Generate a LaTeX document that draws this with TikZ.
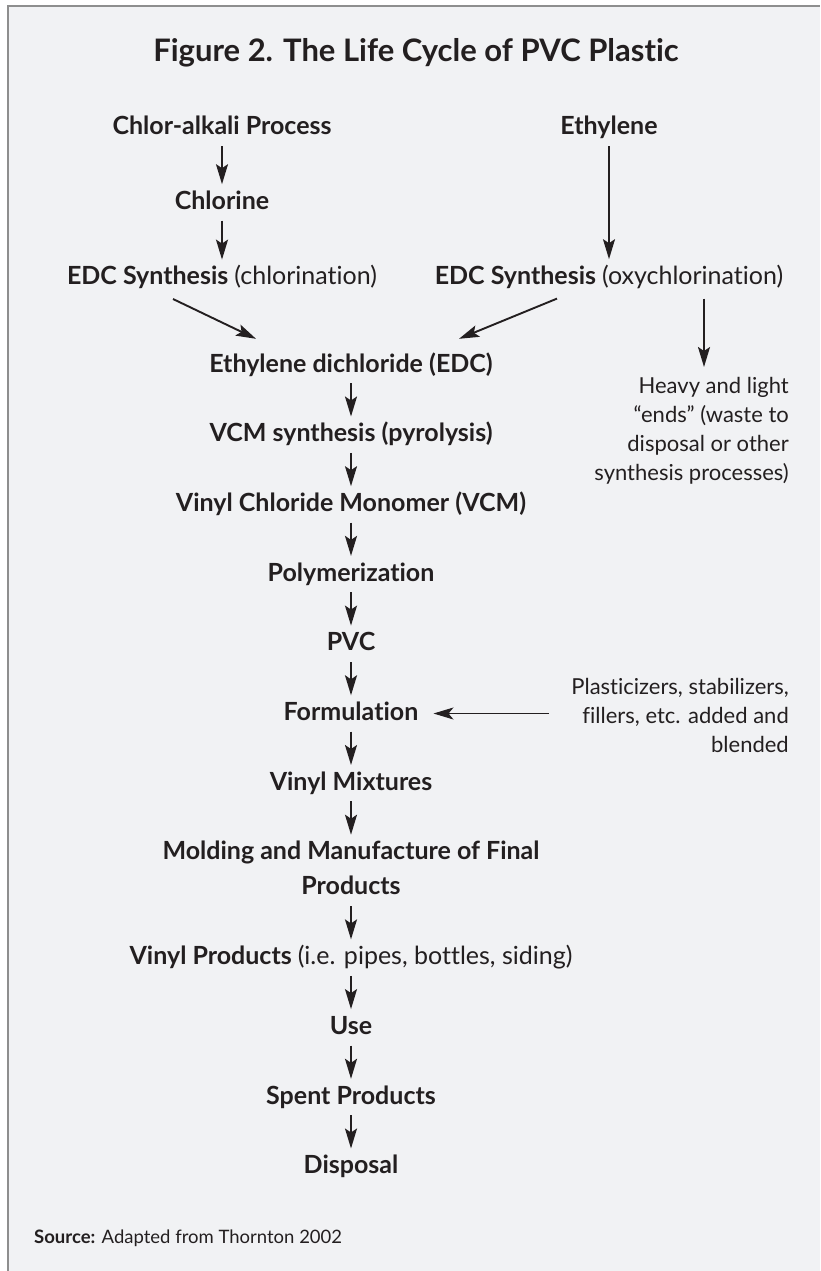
\documentclass[tikz,border=0pt]{standalone}
\usepackage{fontspec}
\setmainfont{Lato}[Ligatures=NoCommon]
\usetikzlibrary{positioning,arrows.meta}
\definecolor{panelgrey}{HTML}{F1F2F4}
\definecolor{ink}{HTML}{231F20}
\definecolor{framegrey}{HTML}{8E8E8E}

\begin{document}
\begin{tikzpicture}[x=1pt,y=-1pt,node distance=47.3pt,
  stage/.style={font=\fontsize{25}{35}\selectfont\bfseries, text=ink, inner sep=0pt,
                text height=18pt, text depth=4pt, align=center},
  note/.style={font=\fontsize{22}{29}\selectfont, text=ink, inner sep=0pt, align=right},
  flow/.style={-{Stealth[length=20pt,width=12pt,inset=4pt]}, line width=1.9pt, draw=ink,
               shorten <=7pt, shorten >=7pt},
  feed/.style={-{Stealth[length=20pt,width=12pt,inset=5pt]}, line width=1pt, draw=ink}]
  \useasboundingbox (0,0) rectangle (820,1271);
  % Panel
  \fill[white] (0,0) rectangle (820,1271);
  \fill[panelgrey] (8,6) rectangle (820,1271);
  \draw[framegrey, line width=2.5pt] (8,1271) -- (8,6) -- (820,6);

  % Title
  \node[font=\fontsize{31}{35}\selectfont\bfseries, text=ink] (title) at (416,53)
    {Figure 2. The Life Cycle of PVC Plastic};

  % Define nodes
  \node[stage]                        (chlor)    at (222,128) {Chlor-alkali Process};
  \node[stage, below=52pt of chlor]   (chlorine)              {Chlorine};
  \node[stage, below=53pt of chlorine](edcl)     {EDC Synthesis {\mdseries (chlorination)}};
  \node[stage]                        (ethyl)    at (609,128) {Ethylene};
  \node[stage, below=127pt of ethyl]  (edcr)     {EDC Synthesis {\mdseries (oxychlorination)}};

  \node[stage]                        (edc)      at (351,365) {Ethylene dichloride (EDC)};
  \node[stage, below=of edc]          (vcms)     {VCM synthesis (pyrolysis)};
  \node[stage, below=of vcms]         (vcm)      {Vinyl Chloride Monomer (VCM)};
  \node[stage, below=of vcm]          (poly)     {Polymerization};
  \node[stage, below=of poly]         (pvc)      {PVC};
  \node[stage, below=of pvc]          (form)     {Formulation};
  \node[stage, below=of form]         (mix)      {Vinyl Mixtures};
  \node[stage, below=of mix, text height=53pt] (mold) {Molding and Manufacture of Final\\Products};
  \node[stage, below=of mold]         (prod)     {Vinyl Products {\mdseries (i.e. pipes, bottles, siding)}};
  \node[stage, below=of prod]         (use)      {Use};
  \node[stage, below=of use]          (spent)    {Spent Products};
  \node[stage, below=of spent]        (disp)     {Disposal};

  \node[note, anchor=north east] (heavy) at (789,377)
    {Heavy and light\\“ends” (waste to\\disposal or other\\synthesis processes)};
  \node[note, anchor=north east] (plast) at (789,678)
    {Plasticizers, stabilizers,\\fillers, etc. added and\\blended};

  \node[note, font=\fontsize{18.5}{22}\selectfont, anchor=base west] (source) at (34,1243)
    {\textbf{Source:} Adapted from Thornton 2002};

  % Connect the nodes
  \draw[flow] (chlor)    -- (chlorine);
  \draw[flow] (chlorine) -- (edcl);
  \draw[flow] (ethyl)    -- (edcr);
  \draw[flow, shorten <=0pt, shorten >=0pt]
    ([shift={(-49pt,-10pt)}]edcl.south) -- ([shift={(-95pt,15pt)}]edc.north);
  \draw[flow, shorten <=0pt, shorten >=0pt]
    ([shift={(-52pt,-10pt)}]edcr.south) -- ([shift={(108pt,15pt)}]edc.north);
  \draw[flow, shorten <=10pt, shorten >=10pt]
    ([xshift=95pt]edcr.south) -- ([xshift=95pt]edcr.south |- heavy.north);
  \foreach \a/\b in {edc/vcms, vcms/vcm, vcm/poly, poly/pvc, pvc/form, form/mix,
                     mix/mold, mold/prod, prod/use, use/spent, spent/disp}
    \draw[flow] (\a) -- (\b);
  \draw[feed, shorten <=22pt, shorten >=15pt] (plast.west |- form.east) -- (form.east);
\end{tikzpicture}
\end{document}
